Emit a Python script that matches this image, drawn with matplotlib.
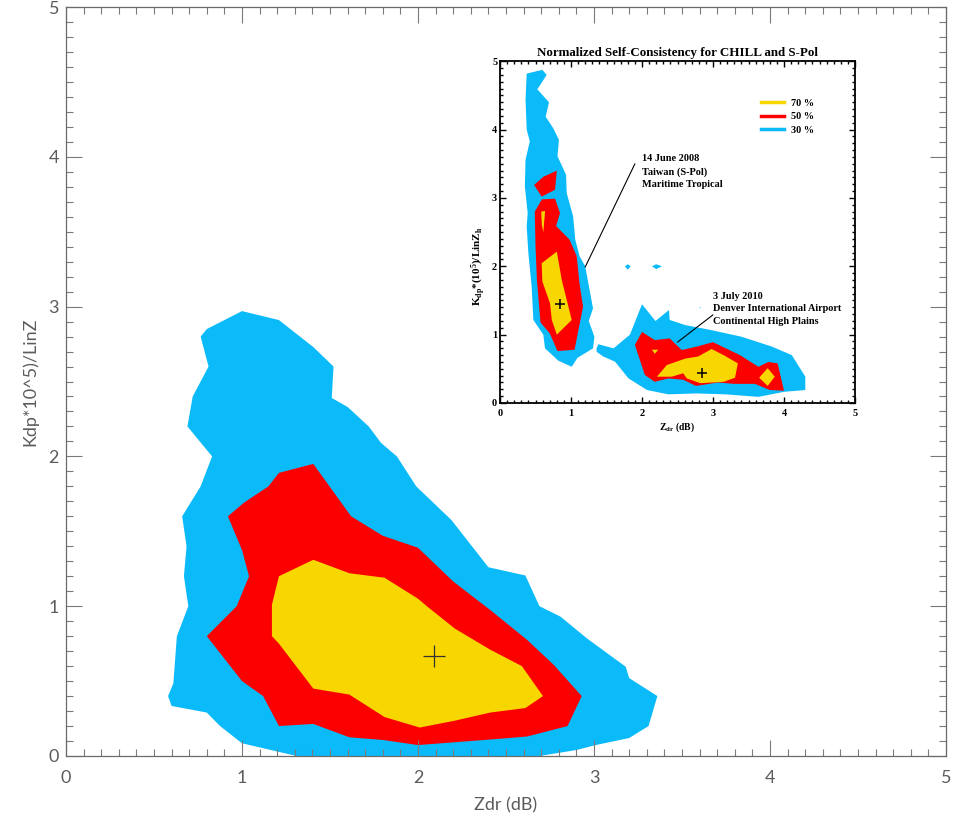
import matplotlib.pyplot as plt
from matplotlib.lines import Line2D
from matplotlib.ticker import MultipleLocator

plt.rcParams['mathtext.fontset'] = 'custom'
plt.rcParams['mathtext.rm'] = 'Liberation Serif:bold'
plt.rcParams['mathtext.it'] = 'Liberation Serif:bold:italic'

BLUE = '#0ABAF9'
RED = '#FC0000'
YELLOW = '#F8D700'

# main panel: contour outlines (Zdr, Kdp*1e5/LinZ)
main_30 = [(1.00, 2.97), (1.21, 2.91), (1.405, 2.73), (1.52, 2.60), (1.51, 2.39), (1.60, 2.33),
           (1.72, 2.20), (1.79, 2.09), (1.88, 2.00), (1.99, 1.80), (2.19, 1.575), (2.40, 1.26),
           (2.61, 1.205), (2.69, 1.00), (2.81, 0.93), (2.96, 0.785), (3.18, 0.596), (3.20, 0.52),
           (3.36, 0.40), (3.31, 0.20), (3.20, 0.12), (3.01, 0.073), (2.90, 0.04), (2.69, 0.0),
           (1.31, 0.0), (1.00, 0.085), (0.875, 0.20), (0.80, 0.29), (0.60, 0.334), (0.58, 0.40),
           (0.61, 0.485), (0.63, 0.80), (0.695, 1.00), (0.67, 1.20), (0.685, 1.40), (0.66, 1.60),
           (0.765, 1.80), (0.83, 2.00), (0.69, 2.20), (0.72, 2.40), (0.81, 2.60), (0.765, 2.80),
           (0.80, 2.85)]
main_50 = [(1.21, 1.89), (1.405, 1.95), (1.62, 1.60), (1.80, 1.47), (2.00, 1.39), (2.20, 1.165),
           (2.41, 0.975), (2.62, 0.775), (2.77, 0.61), (2.93, 0.40), (2.85, 0.20), (2.62, 0.13),
           (2.41, 0.11), (2.00, 0.073), (1.80, 0.107), (1.61, 0.125), (1.405, 0.214), (1.21, 0.20),
           (1.12, 0.40), (1.00, 0.50), (0.80, 0.80), (0.97, 1.00), (1.04, 1.20), (1.00, 1.375),
           (0.92, 1.60), (1.01, 1.69), (1.15, 1.80)]
main_70 = [(1.405, 1.31), (1.61, 1.22), (1.81, 1.19), (2.00, 1.05), (2.05, 1.00), (2.21, 0.85),
           (2.41, 0.71), (2.59, 0.60), (2.71, 0.40), (2.61, 0.32), (2.41, 0.29), (2.21, 0.236),
           (2.01, 0.19), (1.81, 0.26), (1.61, 0.41), (1.405, 0.45), (1.21, 0.75), (1.17, 0.80),
           (1.17, 1.01), (1.21, 1.20)]
main_peak = (2.09, 0.67)

# inset panel (CHILL and S-Pol)
inset_30 = [
    [(0.376, 4.82), (0.596, 4.875), (0.657, 4.80), (0.526, 4.59), (0.69, 4.40), (0.643, 4.19),
     (0.75, 4.02), (0.83, 3.85), (0.81, 3.61), (0.93, 3.34), (0.94, 3.07), (1.03, 2.73),
     (1.06, 2.39), (1.12, 2.15), (1.20, 2.00), (1.31, 1.385), (1.25, 1.20), (1.33, 0.97),
     (1.31, 0.80), (1.09, 0.66), (1.01, 0.53), (0.82, 0.62), (0.634, 0.80), (0.61, 1.00),
     (0.47, 1.215), (0.446, 1.70), (0.40, 2.19), (0.376, 2.58), (0.39, 2.78), (0.35, 3.17),
     (0.36, 3.56), (0.42, 3.83), (0.376, 4.00), (0.36, 4.44)],
    [(1.36, 0.80), (1.385, 0.86), (1.60, 0.80), (1.83, 1.00), (2.00, 1.445), (2.19, 1.20),
     (2.38, 1.36), (2.39, 1.215), (2.61, 1.14), (2.96, 1.07), (3.40, 0.97), (3.83, 0.825),
     (4.11, 0.70), (4.30, 0.385), (4.30, 0.19), (4.01, 0.165), (3.64, 0.09), (3.17, 0.127),
     (2.77, 0.14), (2.37, 0.127), (2.07, 0.19), (1.81, 0.36), (1.62, 0.605), (1.455, 0.68),
     (1.36, 0.75)],
    [(1.76, 2.00), (1.80, 2.03), (1.84, 2.00), (1.80, 1.95)],
    [(2.14, 2.00), (2.20, 2.03), (2.28, 2.00), (2.20, 1.96)],
    [(2.81, 1.38), (2.83, 1.40), (2.82, 1.41)],
]
inset_50 = [
    [(0.48, 3.19), (0.61, 3.31), (0.80, 3.40), (0.775, 3.12), (0.587, 3.02)],
    [(0.49, 2.80), (0.59, 2.98), (0.775, 2.99), (0.845, 2.78), (0.79, 2.59), (0.98, 2.39),
     (1.08, 2.15), (1.12, 1.75), (1.17, 1.41), (1.05, 0.78), (0.81, 0.76), (0.70, 1.02),
     (0.57, 1.18), (0.52, 1.80), (0.50, 2.30)],
    [(1.90, 0.85), (2.00, 1.04), (2.18, 0.92), (2.39, 0.945), (2.56, 0.775), (2.77, 0.825),
     (3.00, 0.89), (3.38, 0.70), (3.64, 0.53), (3.78, 0.60), (3.91, 0.58), (4.00, 0.18),
     (3.80, 0.19), (3.59, 0.28), (3.30, 0.28), (3.07, 0.30), (2.76, 0.25), (2.58, 0.34),
     (2.37, 0.36), (2.18, 0.31), (2.04, 0.41)],
]
inset_70 = [
    [(0.58, 2.80), (0.635, 2.81), (0.61, 2.50), (0.59, 2.60)],
    [(0.587, 2.045), (0.80, 2.215), (0.87, 1.80), (1.01, 1.215), (0.80, 1.00), (0.73, 1.215),
     (0.704, 1.46), (0.596, 1.78)],
    [(2.21, 0.385), (2.35, 0.556), (2.61, 0.65), (2.79, 0.68), (2.98, 0.79), (3.15, 0.70),
     (3.35, 0.58), (3.31, 0.37), (3.15, 0.31), (2.82, 0.29), (2.63, 0.36), (2.58, 0.435),
     (2.42, 0.385)],
    [(3.65, 0.37), (3.77, 0.51), (3.87, 0.385), (3.77, 0.25)],
    [(2.14, 0.78), (2.23, 0.78), (2.18, 0.72)],
]
inset_peaks = [(0.845, 1.445), (2.85, 0.435)]
legend_labels = ['70 %', '50 %', '30 %']

fig = plt.figure(figsize=(9.56, 8.15), dpi=100)

# ---- main panel ----
ax = fig.add_axes([66 / 956, 59 / 815, 880 / 956, 749 / 815])
for poly, c in [(main_30, BLUE), (main_50, RED), (main_70, YELLOW)]:
    xs, ys = zip(*poly)
    ax.fill(xs, ys, color=c, lw=0)
ax.plot(*main_peak, marker='+', ms=16, mew=0.9, color='#333333')

GREY = '#5c5c5c'
FONT = ['Lato', 'DejaVu Sans']
ax.set_xlim(0, 5)
ax.set_ylim(0, 5)
ax.xaxis.set_major_locator(MultipleLocator(1))
ax.yaxis.set_major_locator(MultipleLocator(1))
ax.xaxis.set_minor_locator(MultipleLocator(0.1))
ax.yaxis.set_minor_locator(MultipleLocator(0.1))
ax.tick_params(which='both', direction='in', top=True, right=True, color='#7a7a7a', width=0.8)
ax.tick_params(which='major', length=11.5)
ax.tick_params(which='minor', length=5)
ax.tick_params(axis='x', pad=10, labelsize=13, labelcolor=GREY)
ax.tick_params(axis='y', pad=5, labelsize=13, labelcolor=GREY)
for lab in ax.get_xticklabels() + ax.get_yticklabels():
    lab.set_family(FONT)
for s in ax.spines.values():
    s.set_color('#6a6a6a')
    s.set_linewidth(0.9)
ax.set_xlabel('Zdr (dB)', fontsize=13, color=GREY, labelpad=8, family=FONT)
ax.set_ylabel('Kdp*10^5)/LinZ', fontsize=13, color=GREY, labelpad=7, family=FONT)

# ---- inset panel ----
serif = 'Liberation Serif'
ai = fig.add_axes([500 / 956, 412 / 815, 355 / 956, 341.7 / 815])
ai.set_facecolor('white')
for polys, c in [(inset_30, BLUE), (inset_50, RED), (inset_70, YELLOW)]:
    for poly in polys:
        xs, ys = zip(*poly)
        ai.fill(xs, ys, color=c, lw=0)
for px, py in inset_peaks:
    ai.plot(px, py, marker='+', ms=6.5, mew=1.1, color='black')

ai.set_xlim(0, 5)
ai.set_ylim(0, 5)
ai.xaxis.set_major_locator(MultipleLocator(1))
ai.yaxis.set_major_locator(MultipleLocator(1))
ai.xaxis.set_minor_locator(MultipleLocator(0.1))
ai.yaxis.set_minor_locator(MultipleLocator(0.1))
ai.tick_params(which='both', direction='in', top=True, right=True, color='black', width=1.0)
ai.tick_params(which='major', length=4.5)
ai.tick_params(which='minor', length=2.2)
ai.tick_params(axis='x', pad=4, labelsize=7.5)
ai.tick_params(axis='y', pad=2, labelsize=7.5)
for lab in ai.get_xticklabels() + ai.get_yticklabels():
    lab.set_family(serif)
    lab.set_fontweight('bold')
for s in ai.spines.values():
    s.set_linewidth(1.3)
ai.set_title('Normalized Self-Consistency for CHILL and S-Pol', family=serif,
             fontweight='bold', fontsize=9.4, pad=4)
ai.set_xlabel(r'Z$_{\mathrm{dr}}$ (dB)', family=serif, fontweight='bold', fontsize=7, labelpad=2)
ai.set_ylabel(r'K$_{\mathrm{dp}}$*(10$^{\mathrm{5}}$)/LinZ$_{\mathrm{h}}$', family=serif,
              fontweight='bold', fontsize=8)
ai.yaxis.set_label_coords(-0.035, 0.40)

ai.text(2.0, 3.64, '14 June 2008\nTaiwan (S-Pol)\nMaritime Tropical', family=serif,
        fontweight='bold', fontsize=7.4, va='top', linespacing=1.5)
ai.annotate('', xy=(1.20, 1.99), xytext=(1.90, 3.50),
            arrowprops=dict(arrowstyle='-', lw=0.8, color='black', shrinkA=0, shrinkB=0))
ai.text(3.0, 1.63, '3 July 2010\nDenver International Airport\nContinental High Plains',
        family=serif, fontweight='bold', fontsize=7.4, va='top', linespacing=1.5)
ai.annotate('', xy=(2.50, 0.89), xytext=(3.00, 1.29),
            arrowprops=dict(arrowstyle='-', lw=0.8, color='black', shrinkA=0, shrinkB=0))

handles = [Line2D([], [], color=c, lw=2.5) for c in (YELLOW, RED, BLUE)]
ai.legend(handles, legend_labels, loc='upper left', bbox_to_anchor=(0.735, 0.89),
          frameon=False, handlelength=2.2, handletextpad=0.7, labelspacing=0.4,
          borderpad=0, borderaxespad=0, prop={'family': serif, 'weight': 'bold', 'size': 7.4})

fig.savefig('out.png', dpi=100)
